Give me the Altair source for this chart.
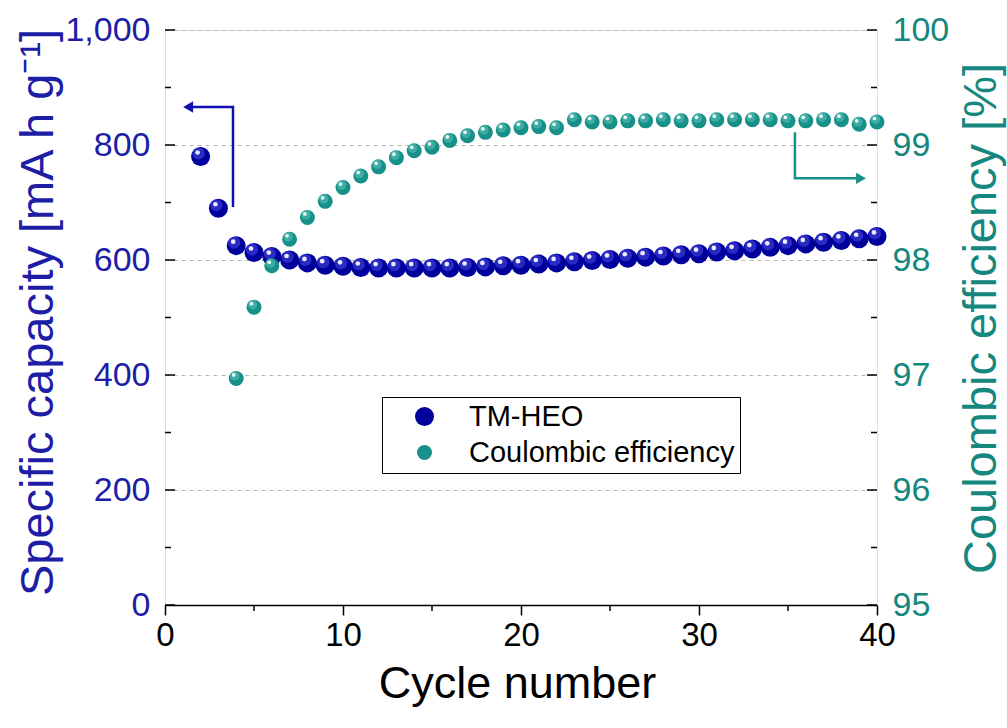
import altair as alt
import pandas as pd

# ---------------- data ----------------
cycles_capacity = list(range(2, 41))
capacity = [780, 690, 625, 613, 606, 600, 595, 591, 589, 587,
            586, 586, 586, 586, 586, 587, 588, 590, 591, 593,
            595, 597, 599, 601, 603, 605, 607, 609, 611, 614,
            616, 619, 622, 625, 628, 631, 634, 637, 641]

cycles_ce = list(range(4, 41))
coulombic_eff = [96.97, 97.59, 97.95, 98.18, 98.37, 98.51, 98.63, 98.73, 98.81, 98.89,
                 98.95, 98.98, 99.04, 99.08, 99.11, 99.13, 99.15, 99.16, 99.15, 99.22,
                 99.20, 99.20, 99.21, 99.21, 99.22, 99.21, 99.21, 99.22, 99.22, 99.22,
                 99.22, 99.21, 99.21, 99.22, 99.22, 99.18, 99.20]

series_names = ["TM-HEO", "Coulombic efficiency"]
series_colors = ["#00009c", "#17908a"]
series_sizes = [361, 225]

x_major = [0, 10, 20, 30, 40]
x_minor = [5, 15, 25, 35]
cap_major = [0, 200, 400, 600, 800, 1000]
cap_minor = [100, 300, 500, 700, 900]
ce_major = [95, 96, 97, 98, 99, 100]
ce_minor = [95.5, 96.5, 97.5, 98.5, 99.5]

# arrow annotations (data coordinates)
arrow_cap_x = [3.82, 3.82, 1.3]
arrow_cap_y = [692, 866, 866]
arrow_ce_x = [35.39, 35.39, 39.1]
arrow_ce_y = [99.11, 98.71, 98.71]

BLUE_TXT = "#1d1da6"
TEAL_TXT = "#16877e"
FONT = "Liberation Sans"

# ---------------- tables ----------------
cap_df = pd.DataFrame({"x": cycles_capacity, "y": capacity, "series": series_names[0]})
ce_df = pd.DataFrame({"x": cycles_ce, "y": coulombic_eff, "series": series_names[1]})
cap_arrow_df = pd.DataFrame({"x": arrow_cap_x, "y": arrow_cap_y, "o": [0, 1, 2]})
ce_arrow_df = pd.DataFrame({"x": arrow_ce_x, "y": arrow_ce_y, "o": [0, 1, 2]})
cap_tick_major_df = pd.DataFrame({"y": cap_major})
cap_tick_minor_df = pd.DataFrame({"y": cap_minor})
ce_tick_major_df = pd.DataFrame({"y": ce_major})
ce_tick_minor_df = pd.DataFrame({"y": ce_minor})
x_minor_df = pd.DataFrame({"x": x_minor})

# ---------------- scales & axes ----------------
x_scale = alt.Scale(domain=[0, 40], nice=False, zero=False)
x_axis = alt.Axis(values=x_major, title="Cycle number", tickSize=10, tickWidth=1.5,
                  tickColor="black", domainColor="black", domainWidth=1.5,
                  labelFontSize=33, labelColor="black", labelPadding=4, labelFlush=False,
                  labelFont=FONT, titleFont=FONT, titleFontWeight="normal",
                  titleFontSize=45, titleColor="black", titleX=352, titleY=92,
                  titleBaseline="alphabetic", grid=False)
X = alt.X("x:Q", scale=x_scale, axis=x_axis)

left_scale = alt.Scale(domain=[0, 1000], nice=False)
left_axis = alt.Axis(values=cap_major, format=",d", ticks=False, domain=False,
                     labelFontSize=34, labelColor=BLUE_TXT, labelPadding=15, labelFlush=False,
                     labelFont=FONT, titleFont=FONT, titleFontWeight="normal",
                     title="Specific capacity [mA h g⁻¹]", titleFontSize=47,
                     titleColor=BLUE_TXT, titleAngle=270, titleX=-113, titleY=282,
                     titleBaseline="alphabetic", titleAlign="center",
                     grid=True, gridDash=[4, 4], gridColor="#b4b4b4", gridWidth=1)
YL = alt.Y("y:Q", scale=left_scale, axis=left_axis)

right_scale = alt.Scale(domain=[95, 100], nice=False, zero=False)
right_axis = alt.Axis(values=ce_major, format="d", orient="right", ticks=False, domain=False,
                      labelFontSize=34, labelColor=TEAL_TXT, labelPadding=15, labelFlush=False,
                      labelFont=FONT, titleFont=FONT, titleFontWeight="normal",
                      title="Coulombic efficiency [%]", titleFontSize=47,
                      titleColor=TEAL_TXT, titleAngle=270, titleX=118, titleY=288,
                      titleBaseline="alphabetic", titleAlign="center", grid=False)
YR = alt.Y("y:Q", scale=right_scale, axis=right_axis)

legend = alt.Legend(orient="none", legendX=217, legendY=367, title=None,
                    strokeColor="black", fillColor="white", padding=5,
                    labelFontSize=29, labelFont=FONT, labelColor="black", labelLimit=500,
                    labelOffset=30, symbolOffset=23, rowPadding=6,
                    symbolStrokeWidth=0, symbolType="circle")
color_enc = alt.Color("series:N", scale=alt.Scale(domain=series_names, range=series_colors),
                      legend=legend)
size_enc = alt.Size("series:N", scale=alt.Scale(domain=series_names, range=series_sizes),
                    legend=legend)

# ---------------- left (capacity) group ----------------
cap_ticks_major = alt.Chart(cap_tick_major_df).mark_rule(color="black", strokeWidth=1.5).encode(
    y=YL, x=alt.value(0), x2=alt.value(10))
cap_ticks_minor = alt.Chart(cap_tick_minor_df).mark_rule(color="black", strokeWidth=1.5).encode(
    y=YL, x=alt.value(0), x2=alt.value(6))
x_ticks_minor = alt.Chart(x_minor_df).mark_rule(color="black", strokeWidth=1.5, y2Offset=6).encode(
    x=X, y=alt.value("height"), y2=alt.value("height"))

cap_arrow = alt.Chart(cap_arrow_df).mark_line(color="#1010b0", strokeWidth=2.5).encode(
    x=X, y=YL, order="o:Q")
cap_head = alt.Chart(cap_arrow_df[cap_arrow_df["o"] == 2]).mark_point(
    shape="triangle-left", filled=True, size=130, color="#1010b0", opacity=1).encode(x=X, y=YL)

cap_base = alt.Chart(cap_df).mark_circle(opacity=1).encode(x=X, y=YL, color=color_enc, size=size_enc)
cap_halo = alt.Chart(cap_df).mark_circle(color="#4a4ae6", size=150, opacity=0.55,
                                         xOffset=-2, yOffset=-3).encode(x=X, y=YL)
cap_spec = alt.Chart(cap_df).mark_circle(color="white", size=22, opacity=0.9,
                                         xOffset=-3, yOffset=-4).encode(x=X, y=YL)

left_group = alt.layer(cap_ticks_major, cap_ticks_minor, x_ticks_minor,
                       cap_arrow, cap_head, cap_base, cap_halo, cap_spec)

# ---------------- right (coulombic efficiency) group ----------------
ce_ticks_major = alt.Chart(ce_tick_major_df).mark_rule(color="black", strokeWidth=1.5, x2Offset=-10).encode(
    y=YR, x=alt.value("width"), x2=alt.value("width"))
ce_ticks_minor = alt.Chart(ce_tick_minor_df).mark_rule(color="black", strokeWidth=1.5, x2Offset=-6).encode(
    y=YR, x=alt.value("width"), x2=alt.value("width"))

ce_arrow = alt.Chart(ce_arrow_df).mark_line(color="#17908a", strokeWidth=2.5).encode(
    x=X, y=YR, order="o:Q")
ce_head = alt.Chart(ce_arrow_df[ce_arrow_df["o"] == 2]).mark_point(
    shape="triangle-right", filled=True, size=130, color="#17908a", opacity=1).encode(x=X, y=YR)

ce_base = alt.Chart(ce_df).mark_circle(opacity=1).encode(x=X, y=YR, color=color_enc, size=size_enc)
ce_halo = alt.Chart(ce_df).mark_circle(color="#5cc2b8", size=90, opacity=0.55,
                                       xOffset=-1.5, yOffset=-2.5).encode(x=X, y=YR)
ce_spec = alt.Chart(ce_df).mark_circle(color="white", size=14, opacity=0.9,
                                       xOffset=-2.5, yOffset=-3.5).encode(x=X, y=YR)

right_group = alt.layer(ce_ticks_major, ce_ticks_minor, ce_arrow, ce_head,
                        ce_base, ce_halo, ce_spec)

chart = alt.layer(left_group, right_group).resolve_scale(y="independent").properties(
    width=712, height=575,
    padding={"left": 165, "top": 30, "right": 130, "bottom": 123},
    autosize=alt.AutoSizeParams(type="none"),
).configure_view(stroke="black", strokeWidth=1.5).configure_axis(
    labelFont=FONT, titleFont=FONT, titleFontWeight="normal"
).configure(background="white")

chart.save("out.html", embed_options={"renderer": "svg", "actions": False})
